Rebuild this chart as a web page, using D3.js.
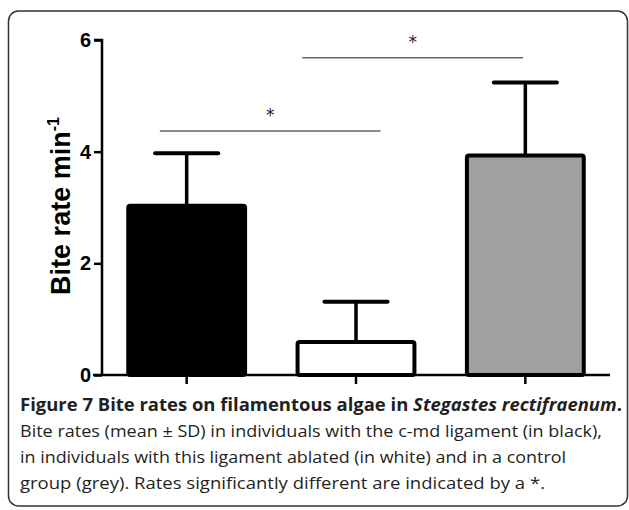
<!DOCTYPE html>
<html>
<head>
<meta charset="utf-8">
<script src="https://cdn.jsdelivr.net/npm/d3@7"></script>
<style>
  body { margin: 0; background: #fff; }
  svg { display: block; }
</style>
</head>
<body>
<svg width="629" height="510"></svg>
<script>
// groups: with ligament, ablated, control
const groups = ["ligament", "ablated", "control"];
const means = [3.03, 0.59, 3.93];
const sds = [0.94, 0.72, 1.31];
const fills = ["#000000", "#ffffff", "#a0a0a0"];
const yTicks = [0, 2, 4, 6];

// significance brackets: start/end group, fraction of band, height
const sigFrom = ["ligament", "ablated"];
const sigFromFrac = [0.27, 0.04];
const sigTo = ["ablated", "control"];
const sigToFrac = [0.71, 0.48];
const sigY = [4.37, 5.68];

const captionLines = [
  "Bite rates (mean \u00b1 SD) in individuals with the c-md ligament (in black),",
  "in individuals with this ligament ablated (in white) and in a control",
  "group (grey). Rates significantly different are indicated by a *."
];
const captionWidths = [582, 546, 525];

const svg = d3.select("svg");

// frame
svg.append("rect")
  .attr("x", 8.5)
  .attr("y", 11)
  .attr("width", 619)
  .attr("height", 495)
  .attr("rx", 10)
  .attr("fill", "none")
  .attr("stroke", "#333")
  .attr("stroke-width", 1.5);

const x = d3.scaleBand()
  .domain(groups)
  .range([102, 610])
  .paddingInner(0.31)
  .paddingOuter(0.155);

const y = d3.scaleLinear()
  .domain([0, 6])
  .range([375, 40]);

// error bars (upward only)
const err = svg.append("g");
groups.forEach((g, i) => {
  const cx = x(g) + x.bandwidth() / 2;
  err.append("line")
    .attr("x1", cx).attr("x2", cx)
    .attr("y1", y(means[i])).attr("y2", y(means[i] + sds[i]))
    .attr("stroke", "#000").attr("stroke-width", 3.5);
  err.append("line")
    .attr("x1", cx - x.bandwidth() * 0.27).attr("x2", cx + x.bandwidth() * 0.27)
    .attr("y1", y(means[i] + sds[i])).attr("y2", y(means[i] + sds[i]))
    .attr("stroke", "#000").attr("stroke-width", 4)
    .attr("stroke-linecap", "round");
});

// bars
svg.selectAll(".bar")
  .data(groups)
  .enter()
  .append("rect")
  .attr("class", "bar")
  .attr("x", d => x(d))
  .attr("y", (d, i) => y(means[i]))
  .attr("width", x.bandwidth())
  .attr("height", (d, i) => y(0) - y(means[i]))
  .attr("rx", 2)
  .attr("fill", (d, i) => fills[i])
  .attr("stroke", "#000")
  .attr("stroke-width", 4);

// axes
const yAxis = d3.axisLeft(y).tickValues(yTicks).tickFormat(d3.format("d")).tickSize(8).tickPadding(3);
const gy = svg.append("g")
  .attr("transform", "translate(102,0)")
  .call(yAxis);
gy.select(".domain").attr("stroke-width", 2.5).attr("d", `M-8,${y(6)}H0V${y(0)}`);
gy.selectAll(".tick line").attr("stroke-width", 2.5);
gy.selectAll(".tick text")
  .attr("font-family", "Liberation Sans, Arial, sans-serif")
  .attr("font-weight", "bold")
  .attr("font-size", 20)
  .attr("fill", "#000");

const xAxis = d3.axisBottom(x).tickSize(9).tickFormat("");
const gx = svg.append("g")
  .attr("transform", `translate(0,${y(0)})`)
  .call(xAxis);
gx.select(".domain").attr("stroke-width", 2.5).attr("d", "M93,0H610");
gx.selectAll(".tick line").attr("stroke-width", 2.5);

// y label
const yl = svg.append("text")
  .attr("transform", "translate(70,206) rotate(-90)")
  .attr("text-anchor", "middle")
  .attr("font-family", "Liberation Sans, Arial, sans-serif")
  .attr("font-weight", "bold")
  .attr("font-size", 27)
  .attr("fill", "#000");
yl.append("tspan").text("Bite rate min");
yl.append("tspan").attr("font-size", 16).attr("dy", -11).text("-1");

// significance lines and stars
sigY.forEach((v, i) => {
  const x1 = x(sigFrom[i]) + x.bandwidth() * sigFromFrac[i];
  const x2 = x(sigTo[i]) + x.bandwidth() * sigToFrac[i];
  svg.append("line")
    .attr("x1", x1).attr("x2", x2)
    .attr("y1", y(v)).attr("y2", y(v))
    .attr("stroke", "#666").attr("stroke-width", 1.5);
  svg.append("text")
    .attr("x", (x1 + x2) / 2)
    .attr("y", y(v) - 10)
    .attr("text-anchor", "middle")
    .attr("font-family", "DejaVu Sans, sans-serif")
    .attr("font-size", 17)
    .attr("fill", "#222")
    .text("*");
});

// caption
const cap = svg.append("g")
  .attr("font-family", "Open Sans, sans-serif")
  .attr("font-size", 17)
  .attr("fill", "#231f20");

const title = cap.append("text")
  .attr("x", 20).attr("y", 411)
  .attr("font-weight", "bold")
  .attr("textLength", 602)
  .attr("lengthAdjust", "spacingAndGlyphs");
title.append("tspan").text("Figure 7 Bite rates on filamentous algae in ");
title.append("tspan").attr("font-style", "italic").text("Stegastes rectifraenum");
title.append("tspan").text(".");

captionLines.forEach((t, i) => {
  cap.append("text")
    .attr("x", 20)
    .attr("y", 437 + i * 26)
    .attr("textLength", captionWidths[i])
    .attr("lengthAdjust", "spacingAndGlyphs")
    .text(t);
});
</script>
</body>
</html>
